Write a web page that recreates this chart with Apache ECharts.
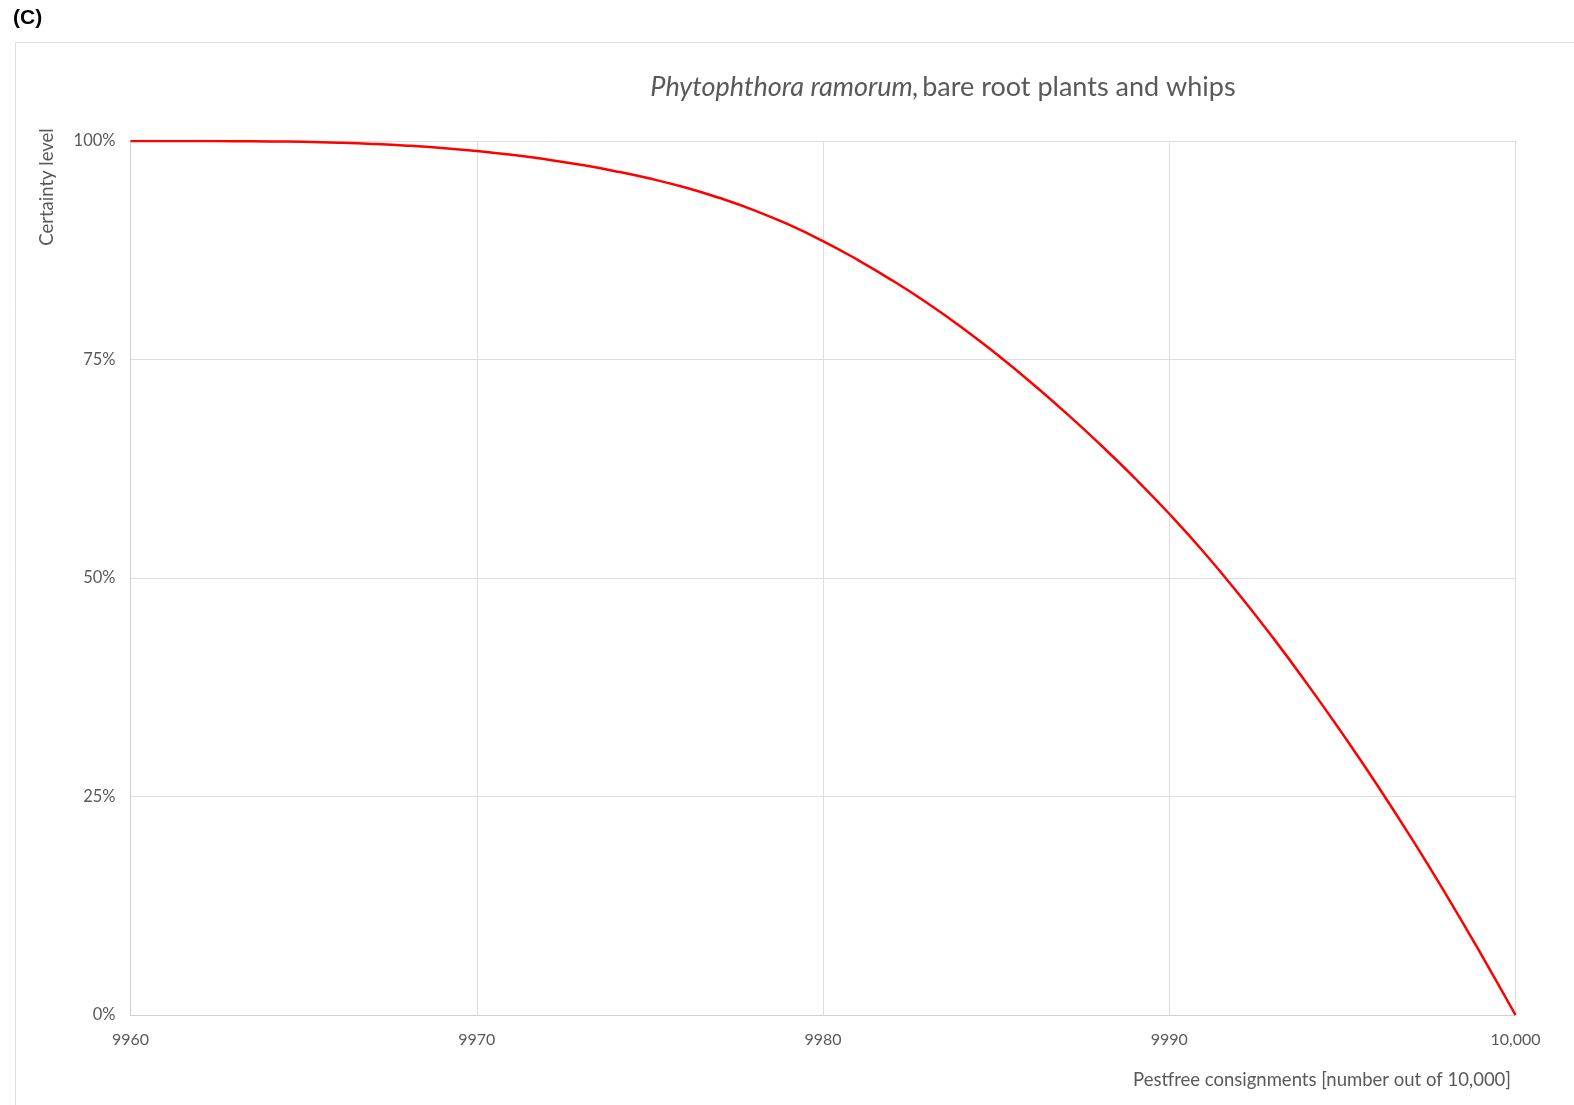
<!DOCTYPE html>
<html>
<head>
<meta charset="utf-8">
<script src="https://cdn.jsdelivr.net/npm/echarts@6/dist/echarts.min.js"></script>
<style>
html,body{margin:0;padding:0;background:#fff;}
#chart{width:1574px;height:1105px;}
</style>
</head>
<body>
<div id="chart"></div>
<script>
// Pest-free consignments (number out of 10,000)
const consignments = [9960,9961,9962,9963,9964,9965,9966,9967,9968,9969,
  9970,9971,9972,9973,9974,9975,9976,9977,9978,9979,
  9980,9981,9982,9983,9984,9985,9986,9987,9988,9989,
  9990,9991,9992,9993,9994,9995,9996,9997,9998,9999,10000];
// Certainty level (%)
const certainty = [100,100,99.99,99.98,99.95,99.9,99.81,99.67,99.47,99.2,
  98.85,98.42,97.9,97.28,96.55,95.7,94.7,93.5,92.1,90.45,
  88.55,86.4,84.05,81.5,78.7,75.65,72.4,68.95,65.3,61.45,
  57.35,52.95,48.2,43.15,37.8,32.2,26.35,20.2,13.75,7.0,0];
const yTicks = [0,25,50,75,100];

const chart = echarts.init(document.getElementById('chart'), null, {renderer:'canvas'});
const txt = '#595959';
const font = 'Lato, "Open Sans", sans-serif';
chart.setOption({
  backgroundColor:'#fff',
  animation:false,
  graphic:[
    {type:'rect', shape:{x:15.5,y:42.5,width:1600,height:1100}, style:{fill:'none',stroke:'#dedede',lineWidth:1}, z:-10},
    {type:'text', left:13, top:8, style:{text:'(C)', font:'bold 21px "Liberation Sans", Arial, sans-serif', fill:'#000'}},
    {type:'text', x:47, y:187, rotation:Math.PI/2, style:{text:'Certainty level', font:'18.5px '+font, fill:txt, align:'center', verticalAlign:'middle'}},
    {type:'text', x:943, y:87, style:{
      text:'{i|Phytophthora ramorum,} {n|bare root plants and whips}',
      align:'center', verticalAlign:'middle',
      rich:{ i:{font:'italic 27px '+font, fill:txt}, n:{font:'27px '+font, fill:txt} }
    }},
    {type:'text', x:1511, y:1080, style:{text:'Pestfree consignments [number out of 10,000]', font:'18.5px '+font, fill:txt, align:'right', verticalAlign:'middle'}}
  ],
  grid:{left:130.5, right:58.5, top:141, bottom:90, containLabel:false},
  xAxis:{
    type:'value', min:9960, max:10000, interval:10,
    axisLine:{show:true, lineStyle:{color:'#d0d0d0', width:1}},
    axisTick:{show:false},
    axisLabel:{color:txt, fontSize:16, fontFamily:font, margin:17,
      formatter:v => v >= 10000 ? '10,000' : String(v)},
    splitLine:{show:true, lineStyle:{color:'#dedede', width:1}}
  },
  yAxis:{
    type:'value', min:0, max:100, interval:25,
    axisLine:{show:true, lineStyle:{color:'#d0d0d0', width:1}},
    axisTick:{show:false},
    axisLabel:{color:txt, fontSize:16.5, fontFamily:font, margin:15,
      formatter:v => yTicks.includes(v) ? v + '%' : ''},
    splitLine:{show:true, lineStyle:{color:'#dedede', width:1}}
  },
  series:[{
    type:'line', smooth:0.5, showSymbol:false,
    data: consignments.map((x,i)=>[x, certainty[i]]),
    lineStyle:{color:'#ff0000', width:2.5},
    itemStyle:{color:'#ff0000'}
  }]
});
</script>
</body>
</html>
